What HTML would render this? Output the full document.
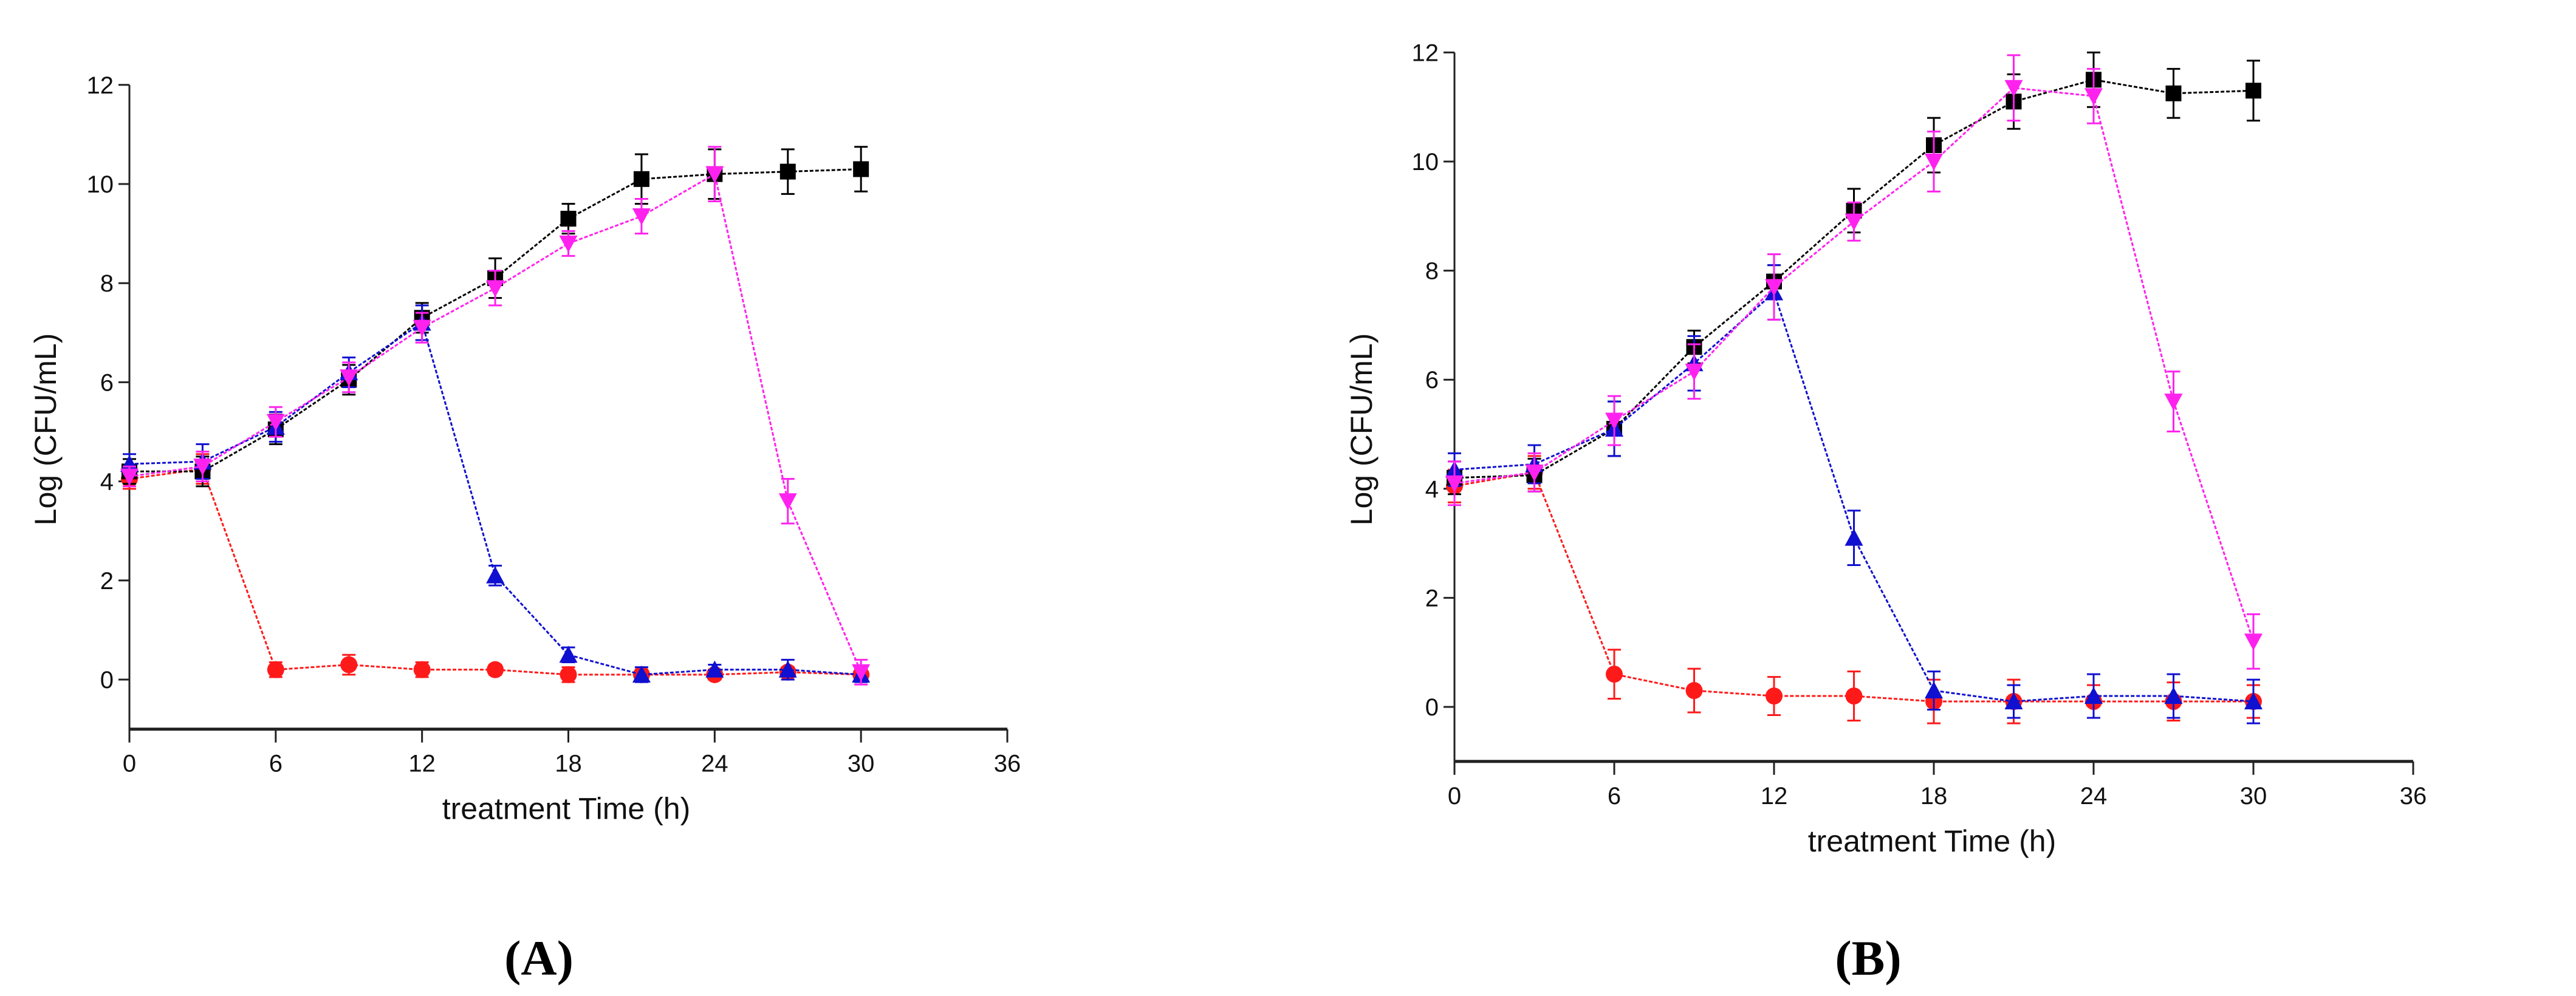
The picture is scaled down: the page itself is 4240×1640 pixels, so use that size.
<!DOCTYPE html>
<html><head><meta charset="utf-8"><style>
html,body{margin:0;padding:0;background:#fff}
svg{display:block}
text{font-family:"Liberation Sans",sans-serif}
</style></head><body>
<svg id="chart" width="4240" height="1640" viewBox="0 0 4240 1640" xmlns="http://www.w3.org/2000/svg"></svg>
<script>
const hours = [0,3,6,9,12,15,18,21,24,27,30];
const xTicks = [0,6,12,18,24,30,36];
const yTicks = [0,2,4,6,8,10,12];
// Panel A
const aBlack = [4.2,4.2,5.05,6.05,7.3,8.1,9.3,10.1,10.2,10.25,10.3];
const aBlackErr = [0.25,0.3,0.3,0.3,0.3,0.4,0.3,0.5,0.5,0.45,0.45];
const aRed = [4.05,4.25,0.2,0.3,0.2,0.2,0.1,0.1,0.1,0.15,0.1];
const aRedErr = [0.2,0.3,0.15,0.2,0.15,0.1,0.15,0.1,0.1,0.1,0.1];
const aBlue = [4.35,4.4,5.1,6.2,7.2,2.1,0.5,0.1,0.2,0.2,0.1];
const aBlueErr = [0.2,0.35,0.3,0.3,0.35,0.2,0.15,0.15,0.1,0.2,0.15];
const aMag = [4.1,4.3,5.2,6.1,7.1,7.9,8.8,9.35,10.2,3.6,0.15];
const aMagErr = [0.2,0.3,0.3,0.3,0.3,0.35,0.25,0.35,0.55,0.45,0.25];
// Panel B
const bBlack = [4.2,4.25,5.1,6.6,7.8,9.1,10.3,11.1,11.5,11.25,11.3];
const bBlackErr = [0.3,0.3,0.5,0.3,0.3,0.4,0.5,0.5,0.5,0.45,0.55];
const bRed = [4.05,4.3,0.6,0.3,0.2,0.2,0.1,0.1,0.1,0.1,0.1];
const bRedErr = [0.3,0.3,0.45,0.4,0.35,0.45,0.4,0.4,0.3,0.35,0.3];
const bBlue = [4.35,4.45,5.1,6.3,7.6,3.1,0.3,0.1,0.2,0.2,0.1];
const bBlueErr = [0.3,0.35,0.5,0.5,0.5,0.5,0.35,0.3,0.4,0.4,0.4];
const bMag = [4.1,4.3,5.25,6.15,7.7,8.9,10.0,11.35,11.2,5.6,1.2];
const bMagErr = [0.4,0.35,0.45,0.5,0.6,0.35,0.55,0.6,0.5,0.55,0.5];

const svg = document.getElementById('chart');
const NS = 'http://www.w3.org/2000/svg';
function mk(tag, attrs, parent){const e=document.createElementNS(NS,tag);for(const k in attrs)e.setAttribute(k,attrs[k]);(parent||svg).appendChild(e);return e;}

function panel(p){
  const g = mk('g',{});
  
  
  const X = v => p.x0 + (v/36)*(p.x36-p.x0);
  const Y = v => p.y0 - v*p.unit;
  const yBot = Y(-1), yTop = Y(12);
  const ax = mk('g',{},g);
  
  
  mk('line',{x1:p.x0,y1:yTop,x2:p.x0,y2:yBot,stroke:'#222','stroke-width':3},ax);
  mk('line',{x1:p.x0,y1:yBot,x2:X(36),y2:yBot,stroke:'#222','stroke-width':5},ax);
  yTicks.forEach(t=>{
    mk('line',{x1:p.x0-18,y1:Y(t),x2:p.x0,y2:Y(t),stroke:'#222','stroke-width':3},ax);
    const tx = mk('text',{x:p.x0-26,y:Y(t)+14,'font-size':40,'text-anchor':'end',fill:'#111'},ax);
    tx.textContent = t;
    
    
  });
  xTicks.forEach(t=>{
    mk('line',{x1:X(t),y1:yBot,x2:X(t),y2:yBot+22,stroke:'#222','stroke-width':3},ax);
    const tx = mk('text',{x:X(t),y:yBot+70,'font-size':40,'text-anchor':'middle',fill:'#111'},ax);
    tx.textContent = t;
    
    
  });
  const xt = mk('text',{x:p.titleX,y:yBot+148,'font-size':50,'text-anchor':'middle',fill:'#111'},g);
  xt.textContent='treatment Time (h)';
  
  
  const yt = mk('text',{x:0,y:0,'font-size':50,'text-anchor':'middle',fill:'#111',transform:`translate(${p.ytX},707) rotate(-90)`},g);
  yt.textContent='Log (CFU/mL)';
  
  
  const lb = mk('text',{x:p.labelX,y:1605,'font-size':82,'font-weight':'bold','text-anchor':'middle',fill:'#000',style:'font-family:"Liberation Serif",serif'},g);
  lb.textContent='('+p.id.toUpperCase()+')';
  
  

  p.series.forEach(s=>{
    const sg = mk('g',{},g);
    
    
    const pts = hours.map((h,i)=>X(h)+','+Y(s.v[i])).join(' ');
    mk('polyline',{points:pts,fill:'none',stroke:s.c,'stroke-width':3,'stroke-dasharray':'6,3'},sg);
    hours.forEach((h,i)=>{
      const cx=X(h), cy=Y(s.v[i]), e=s.e[i]*p.unit;
      mk('line',{x1:cx,y1:cy-e,x2:cx,y2:cy+e,stroke:s.c,'stroke-width':3},sg);
      mk('line',{x1:cx-11,y1:cy-e,x2:cx+11,y2:cy-e,stroke:s.c,'stroke-width':3},sg);
      mk('line',{x1:cx-11,y1:cy+e,x2:cx+11,y2:cy+e,stroke:s.c,'stroke-width':3},sg);
      let m; const r=13;
      if(s.m==='sq') m=mk('rect',{x:cx-r,y:cy-r,width:2*r,height:2*r,fill:s.c},sg);
      else if(s.m==='ci') m=mk('circle',{cx:cx,cy:cy,r:r+1,fill:s.c},sg);
      else if(s.m==='up') m=mk('polygon',{points:`${cx},${cy-r-2} ${cx-r-2},${cy+r} ${cx+r+2},${cy+r}`,fill:s.c},sg);
      else m=mk('polygon',{points:`${cx},${cy+r+2} ${cx-r-2},${cy-r} ${cx+r+2},${cy-r}`,fill:s.c},sg);
      
      
    });
  });
}
panel({id:'a',x0:213,x36:1658,y0:1119,unit:81.6,titleX:932,ytX:92,labelX:887,
  series:[{name:'red',v:aRed,e:aRedErr,c:'#ff1a1a',m:'ci'},{name:'black',v:aBlack,e:aBlackErr,c:'#000',m:'sq'},
          {name:'blue',v:aBlue,e:aBlueErr,c:'#1010d0',m:'up'},{name:'magenta',v:aMag,e:aMagErr,c:'#ff22ee',m:'dn'}]});
panel({id:'b',x0:2394,x36:3972,y0:1164,unit:89.8,titleX:3180,ytX:2258,labelX:3075,
  series:[{name:'red',v:bRed,e:bRedErr,c:'#ff1a1a',m:'ci'},{name:'black',v:bBlack,e:bBlackErr,c:'#000',m:'sq'},
          {name:'blue',v:bBlue,e:bBlueErr,c:'#1010d0',m:'up'},{name:'magenta',v:bMag,e:bMagErr,c:'#ff22ee',m:'dn'}]});
</script>
</body></html>
